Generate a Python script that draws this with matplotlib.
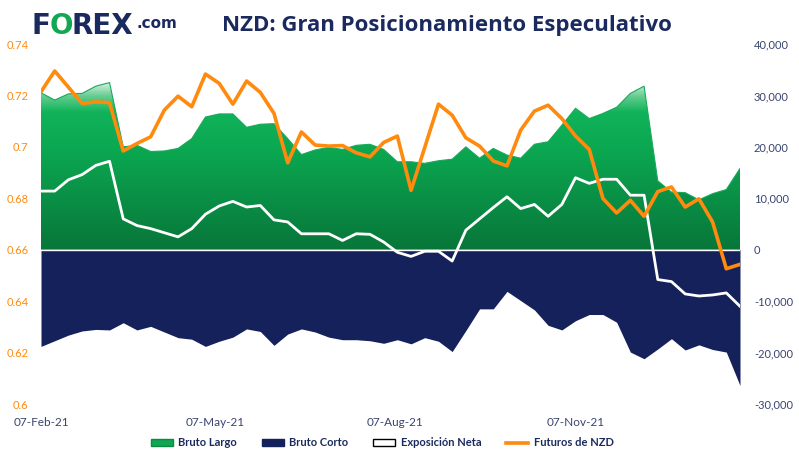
import numpy as np
import pandas as pd
import matplotlib
matplotlib.use("Agg")
import matplotlib.pyplot as plt
import matplotlib.dates as mdates
from matplotlib.colors import LinearSegmentedColormap
from matplotlib.patches import Patch
from matplotlib.lines import Line2D
from matplotlib.ticker import FuncFormatter

# weekly COT data (NZD)
dates = pd.date_range("2021-02-07", periods=52, freq="W")

bruto_largo = [30500, 29100, 30300, 30400, 31800, 32500, 20000, 20300, 19100, 19200,
               19700, 21600, 25800, 26400, 26400, 23800, 24400, 24500, 21600, 18500,
               19400, 19900, 19500, 20300, 20500, 19500, 17100, 17100, 16800, 17300,
               17600, 20000, 17800, 19700, 18400, 17800, 20500, 21000, 24200, 27500,
               25500, 26500, 27700, 30400, 31800, 13400, 11200, 11100, 9700, 10900,
               11700, 15800]

bruto_corto = [-18800, -17700, -16600, -15800, -15500, -15600, -14200, -15600, -14900, -16000,
               -17100, -17400, -18800, -17800, -17000, -15400, -15900, -18600, -16400, -15400,
               -16000, -17000, -17500, -17500, -17700, -18200, -17500, -18300, -17100, -17800,
               -19800, -15700, -11500, -11500, -8100, -9900, -11700, -14700, -15600, -13800,
               -12600, -12600, -14100, -19900, -21200, -19300, -17300, -19500, -18500, -19400,
               -19900, -26400]

exposicion_neta = [11400, 11400, 13600, 14600, 16400, 17200, 6000, 4700, 4100, 3300,
                   2500, 4100, 6900, 8500, 9400, 8300, 8600, 5800, 5400, 3100,
                   3100, 3100, 1800, 3100, 3000, 1500, -500, -1300, -300, -300,
                   -2200, 3800, 6000, 8200, 10300, 8000, 8800, 6500, 8800, 14000,
                   12900, 13700, 13700, 10600, 10600, -5800, -6200, -8600, -9000, -8800,
                   -8400, -11000]

futuros_nzd = [0.7214, 0.7295, 0.7232, 0.7169, 0.7175, 0.7172, 0.6984, 0.7013, 0.7039, 0.7143,
               0.7197, 0.7156, 0.7283, 0.7247, 0.7166, 0.7256, 0.7212, 0.7130, 0.6938, 0.7058,
               0.7007, 0.7003, 0.7005, 0.6977, 0.6961, 0.7017, 0.7042, 0.6831, 0.6998, 0.7166,
               0.7123, 0.7035, 0.7003, 0.6945, 0.6926, 0.7065, 0.7139, 0.7162, 0.7110, 0.7042,
               0.6990, 0.6799, 0.6743, 0.6792, 0.6730, 0.6826, 0.6844, 0.6766, 0.6798, 0.6708,
               0.6526, 0.6543]

tick_dates = ["2021-02-07", "2021-05-07", "2021-08-07", "2021-11-07"]
price_ticks = [0.6, 0.62, 0.64, 0.66, 0.68, 0.7, 0.72, 0.74]
pos_ticks = [-30000, -20000, -10000, 0, 10000, 20000, 30000, 40000]

navy = "#14215a"
orange = "#ff8a0d"
tick_col = "#3a4470"

plt.rcParams["font.family"] = ["Lato", "DejaVu Sans"]

fig = plt.figure(figsize=(7.99, 4.58), dpi=100)
ax = fig.add_axes([41 / 799, 54 / 458, 699 / 799, 360 / 458])

# positions (right axis)
x = mdates.date2num(dates)
poly = ax.fill_between(x, 0, bruto_largo, color="none", lw=0)
top = 33500
grad = LinearSegmentedColormap.from_list("g", [(0, "#08763a"), (0.55, "#0ba550"),
                                                (0.80, "#10b35a"), (0.89, "#62cb8e"),
                                                (1.0, "#ffffff")])
img = ax.imshow(np.linspace(1, 0, 300).reshape(-1, 1), cmap=grad, aspect="auto",
                extent=[x[0], x[-1], 0, top], origin="upper", zorder=1)
img.set_clip_path(poly.get_paths()[0], transform=ax.transData)
ax.plot(x, bruto_largo, color="#1aa95a", lw=0.8, zorder=2)
ax.fill_between(x, 0, bruto_corto, color=navy, lw=0, zorder=2)
ax.axhline(0, color="white", lw=1, zorder=3)
ax.plot(x, exposicion_neta, color="white", lw=2, zorder=4)

ax.set_xlim(x[0], x[-1])
ax.set_ylim(-30000, 40000)
ax.set_xticks(mdates.date2num(pd.to_datetime(tick_dates)))
ax.xaxis.set_major_formatter(mdates.DateFormatter("%d-%b-%y"))
ax.tick_params(axis="x", length=0, colors=tick_col, labelsize=8.5, pad=9)

# futures price (left axis), drawn on top
axp = ax.twinx()
axp.plot(x, futuros_nzd, color=orange, lw=2.6, zorder=5)
axp.set_ylim(0.6, 0.74)

ax.yaxis.tick_right()
ax.set_yticks(pos_ticks)
ax.yaxis.set_major_formatter(FuncFormatter(lambda v, p: f"{v:,.0f}"))
ax.tick_params(axis="y", length=0, colors=tick_col, labelsize=8, pad=10)
for lab in ax.get_yticklabels():
    lab.set_horizontalalignment("left")

axp.yaxis.tick_left()
axp.set_yticks(price_ticks)
axp.yaxis.set_major_formatter(FuncFormatter(lambda v, p: f"{v:g}"))
axp.tick_params(axis="y", length=0, colors=orange, labelsize=8, pad=9)

for a in (ax, axp):
    for s in a.spines.values():
        s.set_visible(False)

# header
fig.text(447 / 799, 1 - 26 / 458, "NZD: Gran Posicionamiento Especulativo",
         ha="center", va="center", fontsize=16, fontweight="bold", color="#1b2a5e",
         family="Open Sans")
fig.text(32 / 799, 1 - 26 / 458, "F", ha="left", va="center", fontsize=20,
         fontweight="bold", color="#1b2a5e", family="DejaVu Sans")
fig.text(50 / 799, 1 - 26 / 458, "O", ha="left", va="center", fontsize=20,
         fontweight="bold", color="#12a853", family="DejaVu Sans")
fig.text(72 / 799, 1 - 26 / 458, "REX", ha="left", va="center", fontsize=20,
         fontweight="bold", color="#1b2a5e", family="DejaVu Sans")
fig.text(137 / 799, 1 - 24 / 458, ".com", ha="left", va="center", fontsize=11,
         fontweight="bold", color="#1b2a5e", family="DejaVu Sans")

handles = [Patch(facecolor="#10a653", edgecolor="#0a8a42"),
           Patch(facecolor=navy, edgecolor=navy),
           Patch(facecolor="white", edgecolor="black"),
           Line2D([], [], color=orange, lw=2.6)]
labels = ["Bruto Largo", "Bruto Corto", "Exposición Neta", "Futuros de NZD"]
leg = fig.legend(handles, labels, loc="center", ncol=4, frameon=False,
                 bbox_to_anchor=(382 / 799, 1 - 443 / 458), fontsize=8,
                 handlelength=2.0, handleheight=0.6, handletextpad=0.5, columnspacing=2.2)
for t in leg.get_texts():
    t.set_color("#1b2a5e")
    t.set_fontweight("bold")

fig.savefig("out.png", dpi=100)
